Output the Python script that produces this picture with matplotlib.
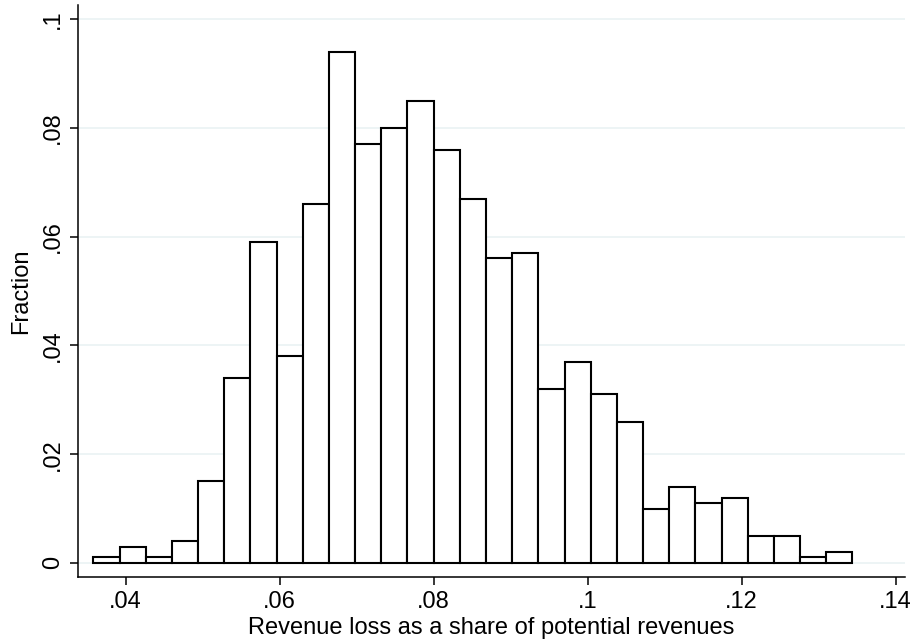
import numpy as np
import matplotlib.pyplot as plt

# fraction of observations in each bin
fractions = [0.001, 0.003, 0.001, 0.004, 0.015, 0.034, 0.059, 0.038, 0.066, 0.094,
             0.077, 0.080, 0.085, 0.076, 0.067, 0.056, 0.057, 0.032, 0.037, 0.031,
             0.026, 0.010, 0.014, 0.011, 0.012, 0.005, 0.005, 0.001, 0.002]
bin_start = 0.0358
bin_width = 0.0034

xticks = [0.04, 0.06, 0.08, 0.10, 0.12, 0.14]
xtick_labels = [".04", ".06", ".08", ".1", ".12", ".14"]
yticks = [0, 0.02, 0.04, 0.06, 0.08, 0.10]
ytick_labels = ["0", ".02", ".04", ".06", ".08", ".1"]

plt.rcParams['font.family'] = ['Liberation Sans', 'DejaVu Sans']

fig = plt.figure(figsize=(9.13, 6.43), dpi=100)
ax = fig.add_axes([0.0854, 0.1026, 0.9056, 0.8894])

edges = bin_start + bin_width * np.arange(len(fractions))
ax.bar(edges, fractions, width=bin_width, align='edge',
       facecolor='white', edgecolor='black', linewidth=1.5, zorder=3)

ax.set_xlim(0.0338, 0.1412)
ax.set_ylim(-0.0026, 0.1026)

ax.set_xticks(xticks)
ax.set_xticklabels(xtick_labels)
ax.set_yticks(yticks)
ax.set_yticklabels(ytick_labels, rotation=90, va='center')

ax.grid(axis='y', color='#eaf2f3', linewidth=1.2, zorder=0)
ax.set_axisbelow(True)

for side in ['top', 'right']:
    ax.spines[side].set_visible(False)
for side in ['left', 'bottom']:
    ax.spines[side].set_linewidth(1.1)

ax.tick_params(axis='both', labelsize=17, length=6, width=1.1, pad=4)
ax.set_xlabel("Revenue loss as a share of potential revenues", fontsize=17, labelpad=3)
ax.set_ylabel("Fraction", fontsize=17, labelpad=7)

fig.savefig("out.png", dpi=100, facecolor='white')
